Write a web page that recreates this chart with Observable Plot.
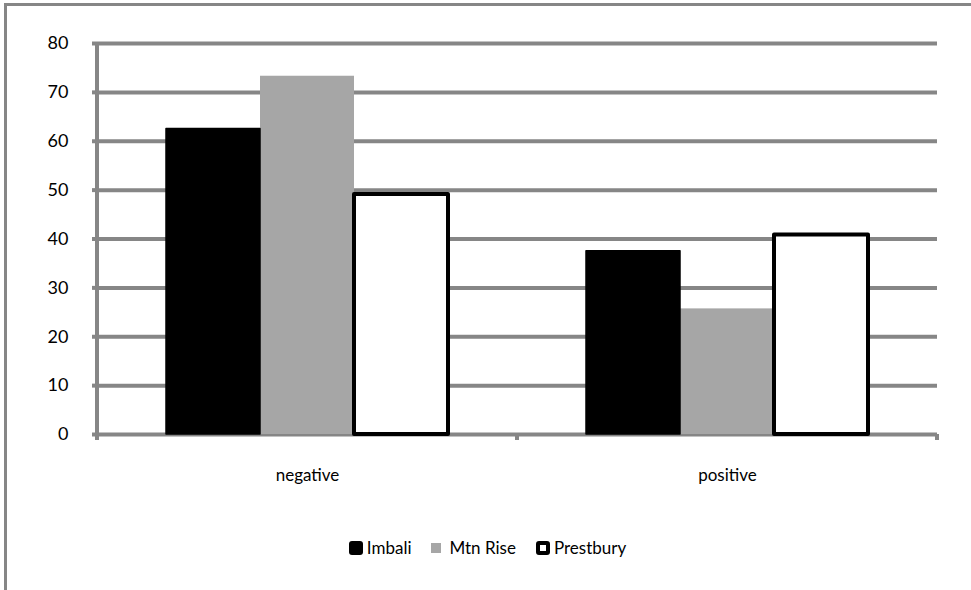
<!DOCTYPE html>
<html>
<head>
<meta charset="utf-8">
<script src="https://cdn.jsdelivr.net/npm/d3@7"></script>
<script src="https://cdn.jsdelivr.net/npm/@observablehq/plot@0.6"></script>
<style>
  body { margin: 0; background: #fff; font-family: Lato, "Open Sans", sans-serif; }
  #chart { position: relative; width: 971px; height: 590px; overflow: hidden; background: #fff; }
  #border { position: absolute; left: 4px; top: 3px; width: 990px; height: 610px;
            border-left: 3px solid #868686; border-top: 3px solid #868686; box-sizing: border-box; }
  #plot { position: absolute; left: 0; top: 0; }
  #legend { position: absolute; left: 2px; top: 537px; width: 971px; display: flex;
            justify-content: center; align-items: center; font-size: 17px; color: #000; }
  .item { display: flex; align-items: center; margin: 0 10px; }
  .sw { display: inline-block; box-sizing: border-box; margin-right: 4px; }
</style>
</head>
<body>
<div id="chart">
  <div id="border"></div>
  <div id="plot"></div>
  <div id="legend"></div>
</div>
<script>
// Categories, series and their values
const categories = ["negative", "positive"];
const series = ["Imbali", "Mtn Rise", "Prestbury"];
const imbali = [62.5, 37.5];
const mtnRise = [73.3, 25.7];
const prestbury = [49.1, 40.8];
const yTicks = [0, 10, 20, 30, 40, 50, 60, 70, 80];

const seriesValues = { "Imbali": imbali, "Mtn Rise": mtnRise, "Prestbury": prestbury };
const fills = ["#000000", "#a6a6a6", "#ffffff"];
const gridColor = "#868686";

const rows = [];
categories.forEach((c, i) => {
  series.forEach(s => rows.push({ category: c, series: s, value: seriesValues[s][i] }));
});

const plot = Plot.plot({
  width: 971,
  height: 500,
  marginLeft: 96,
  marginRight: 34,
  marginTop: 43,
  marginBottom: 66,
  style: { fontFamily: "Lato, 'Open Sans', sans-serif", color: "#000", background: "transparent", overflow: "visible" },
  fx: { domain: categories, padding: 0, label: null, axis: null },
  x: { domain: series, paddingInner: 0, paddingOuter: 0.72, axis: null },
  y: { domain: [0, 80], axis: null, label: null },
  color: { domain: series, range: fills },
  marks: [
    Plot.ruleY(yTicks, { stroke: gridColor, strokeWidth: 4 }),
    Plot.barY(rows, { fx: "category", x: "series", y: "value", fill: "series",
      filter: d => d.series === "Mtn Rise" }),
    Plot.barY(rows, { fx: "category", x: "series", y: "value", fill: "series",
      stroke: "#000", strokeWidth: 1.5, strokeLinejoin: "round",
      filter: d => d.series === "Imbali" }),
    Plot.barY(rows, { fx: "category", x: "series", y: "value", fill: "series",
      stroke: "#000", strokeWidth: 4, strokeLinejoin: "round",
      filter: d => d.series === "Prestbury" }),
    Plot.axisY(yTicks, { anchor: "left", tickSize: 5, tickPadding: 24, stroke: gridColor,
      strokeWidth: 4, fontSize: 18, label: null, tickFormat: d => String(d) }),
    Plot.axisFx({ anchor: "bottom", tickSize: 0, tickPadding: 34, fontSize: 17, label: null })
  ]
});

// Value axis line and category-boundary ticks, drawn from the plot's scales
const fx = plot.scale("fx");
const y = plot.scale("y");
const left = fx.apply(categories[0]);
const bounds = categories.map(c => fx.apply(c)).concat([fx.apply(categories[categories.length - 1]) + fx.bandwidth]);
const svg = d3.select(plot);
const g = svg.append("g").attr("stroke", gridColor).attr("stroke-width", 4);
g.append("line").attr("x1", left).attr("x2", left).attr("y1", y.apply(80)).attr("y2", y.apply(0) + 6);
bounds.forEach(b => {
  g.append("line").attr("x1", b).attr("x2", b).attr("y1", y.apply(0)).attr("y2", y.apply(0) + 6);
});
svg.selectAll("text").attr("fill", "#000");

document.getElementById("plot").appendChild(plot);

// Legend
const legend = document.getElementById("legend");
series.forEach((s, i) => {
  const item = document.createElement("span");
  item.className = "item";
  const sw = document.createElement("span");
  sw.className = "sw";
  if (s === "Mtn Rise") {
    sw.style.cssText = `width:10px;height:10px;background:${fills[i]};margin-right:8px;`;
  } else if (s === "Prestbury") {
    sw.style.cssText = `width:14px;height:14px;background:#fff;border:4px solid #000;border-radius:3px;`;
  } else {
    sw.style.cssText = `width:14px;height:14px;background:${fills[i]};border-radius:3px;`;
  }
  item.appendChild(sw);
  item.appendChild(document.createTextNode(s));
  legend.appendChild(item);
});
</script>
</body>
</html>
